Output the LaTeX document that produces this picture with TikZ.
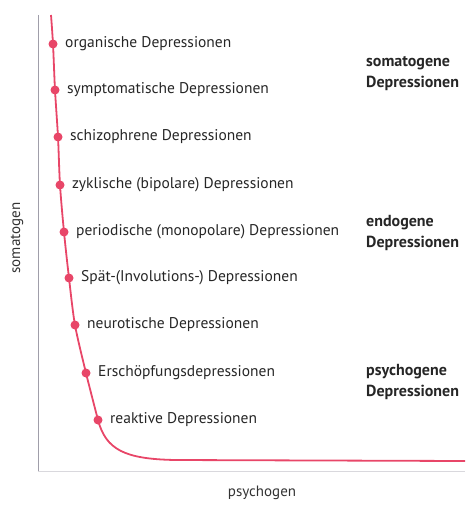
\documentclass[tikz,border=0pt]{standalone}
\usepackage{fontspec}
\setmainfont{PT Sans}
\usetikzlibrary{positioning}
\definecolor{kurve}{RGB}{232,70,104}
\definecolor{achse}{RGB}{160,158,170}
\tikzset{
  dot/.style={circle,fill=kurve,inner sep=0pt,minimum size=9pt},
  lbl/.style={inner sep=0pt,anchor=west,font=\fontsize{15.5}{17}\selectfont,text=black!85},
  gruppe/.style={inner sep=0pt,anchor=west,align=left,font=\bfseries\fontsize{16}{21}\selectfont,text=black!85},
  axlbl/.style={inner sep=0pt,font=\fontsize{15}{17}\selectfont,text=black!80}
}
\begin{document}
\begin{tikzpicture}[x=1pt,y=-1pt]
    \useasboundingbox (0,0) rectangle (465,505);
    % axes
    \coordinate (o) at (38,471);
    \draw[achse,thin] (38,15) -- (o);
    \draw[achse!40,thin] (o) -- (465,471);
    \node[axlbl,rotate=90] (ylab) at (17,238) {somatogen};
    \node[axlbl] (xlab) at (262,493) {psychogen};

    % points and labels
    \foreach \i/\x/\y/\t in {
        1/53/44/organische Depressionen,
        2/55/90/symptomatische Depressionen,
        3/58/137/schizophrene Depressionen,
        4/60/185/zyklische (bipolare) Depressionen,
        5/64/232/periodische (monopolare) Depressionen,
        6/69/278/Spät-(Involutions-) Depressionen,
        7/75/325/neurotische Depressionen,
        8/86/373/Erschöpfungsdepressionen,
        9/98/420/reaktive Depressionen}{
      \coordinate (d\i) at (\x,\y);
      \node[lbl,right=12pt of d\i] (l\i) {\t};
    }

    % curve
    \coordinate (top) at (51,15);
    \coordinate (ende) at (465,461);
    \draw[kurve,line width=1.8pt] plot[smooth,tension=0.5] coordinates
        {(top) (d1) (d2) (d3) (d4) (d5) (d6) (d7) (d8) (d9)}
        .. controls (106,450) and (125,459) .. (175,460) -- (ende);
    \foreach \i in {1,...,9}{
      \node[dot] at (d\i) {};
    }

    % groups
    \node[gruppe] (soma) at (366,74) {somatogene\\Depressionen};
    \node[gruppe] (endo) at (366,233) {endogene\\Depressionen};
    \node[gruppe] (psych) at (366,382) {psychogene\\Depressionen};
\end{tikzpicture}
\end{document}
